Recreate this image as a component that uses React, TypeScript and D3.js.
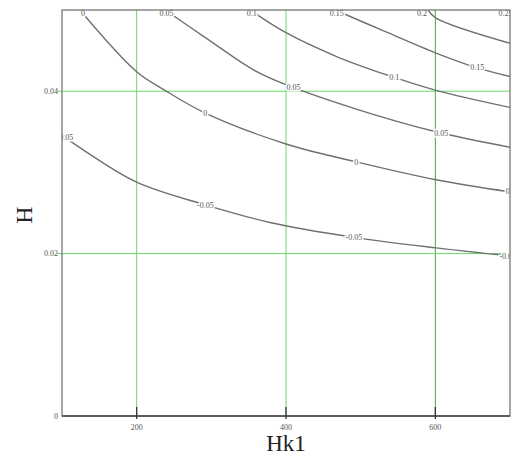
import React, { useRef, useEffect } from 'react';
import * as d3 from 'd3';

type Pt = [number, number];

const xTicks = [200, 400, 600];
const xTickLabels = ['200', '400', '600'];
const yTicks = [0, 0.02, 0.04];
const yTickLabels = ['0', '0.02', '0.04'];
const gridX = [200, 400, 600];
const gridY = [0.02, 0.04];

const levelLabels = ['-0.05', '0', '0.05', '0.1', '0.15', '0.2', '0.25'];

// contour lines (Hk1, H)
const lineM005: Pt[] = [[100, 0.0346], [128, 0.0328], [200, 0.0288], [292, 0.026], [380, 0.0238], [491, 0.022], [601, 0.0207], [700, 0.0197]];
const line0: Pt[] = [[124, 0.05], [200, 0.0424], [238, 0.0401], [292, 0.0373], [400, 0.0335], [494, 0.0313], [601, 0.0291], [700, 0.0276]];
const line005: Pt[] = [[238, 0.05], [292, 0.0466], [357, 0.0426], [400, 0.0408], [494, 0.0378], [601, 0.035], [700, 0.0331]];
const line01: Pt[] = [[352, 0.05], [400, 0.0472], [467, 0.0443], [535, 0.042], [601, 0.0401], [700, 0.038]];
const line015: Pt[] = [[466, 0.05], [534, 0.0473], [601, 0.0447], [652, 0.043], [700, 0.0418]];
const line02: Pt[] = [[590, 0.05], [601, 0.049], [700, 0.0459]];
const line025: Pt[] = [[694, 0.05], [700, 0.0496]];

const contourLines = [lineM005, line0, line005, line01, line015, line02, line025];
// where the inline labels sit, as Hk1 values
const labelXs: number[][] = [[104, 292, 491, 697], [128, 292, 494, 697], [240, 410, 608], [354, 545], [468, 656], [582], [694]];

const width = 514;
const height = 455;
const margin = { top: 10, right: 4, bottom: 39, left: 62 };

const ContourChart: React.FC = () => {
    const ref = useRef<SVGSVGElement>(null);

    useEffect(() => {
        if (!ref.current) return;
        const svg = d3.select(ref.current);
        svg.selectAll('*').remove();

        const x = d3.scaleLinear().domain([100, 700]).range([margin.left, width - margin.right]);
        const y = d3.scaleLinear().domain([0, 0.05]).range([height - margin.bottom, margin.top]);
        const font = "'Liberation Serif', 'DejaVu Serif', serif";

        svg.append('defs').append('clipPath').attr('id', 'plot-clip')
            .append('rect')
            .attr('x', x(100)).attr('y', y(0.05))
            .attr('width', x(700) - x(100)).attr('height', y(0) - y(0.05));

        // grid
        svg.append('g').selectAll('line').data(gridX).enter().append('line')
            .attr('x1', d => x(d)).attr('x2', d => x(d))
            .attr('y1', y(0)).attr('y2', y(0.05))
            .attr('stroke', (d) => d === 600 ? '#4aa44a' : '#6ad86a').attr('stroke-width', 1);
        svg.append('g').selectAll('line').data(gridY).enter().append('line')
            .attr('x1', x(100) - 5).attr('x2', x(700))
            .attr('y1', d => y(d)).attr('y2', d => y(d))
            .attr('stroke', '#6ad86a').attr('stroke-width', 1);

        const plot = svg.append('g').attr('clip-path', 'url(#plot-clip)');
        const line = d3.line<Pt>().x(d => x(d[0])).y(d => y(d[1])).curve(d3.curveCatmullRom.alpha(0.5));

        plot.selectAll('path.contour').data(contourLines).enter().append('path')
            .attr('class', 'contour')
            .attr('d', d => line(d)!)
            .attr('fill', 'none')
            .attr('stroke', '#707070')
            .attr('stroke-width', 1.4);

        contourLines.forEach((pts, i) => {
            const along = d3.scaleLinear().domain(pts.map(p => p[0])).range(pts.map(p => p[1])).clamp(true);
            plot.append('g').selectAll('text').data(labelXs[i]).enter().append('text')
                .attr('x', d => x(d))
                .attr('y', d => Math.max(y(along(d)), y(0.05) + 3))
                .attr('dy', '0.35em')
                .attr('text-anchor', 'middle')
                .attr('font-family', font)
                .attr('font-size', 8)
                .attr('fill', '#555')
                .attr('stroke', '#fff')
                .attr('stroke-width', 3)
                .attr('paint-order', 'stroke')
                .text(levelLabels[i]);
        });

        // frame
        svg.append('rect')
            .attr('x', x(100)).attr('y', y(0.05))
            .attr('width', x(700) - x(100)).attr('height', y(0) - y(0.05))
            .attr('fill', 'none').attr('stroke', '#777').attr('stroke-width', 1.3);
        svg.append('line')
            .attr('x1', x(100)).attr('x2', x(700)).attr('y1', y(0)).attr('y2', y(0))
            .attr('stroke', '#444').attr('stroke-width', 1.5);

        // x ticks
        svg.append('g').selectAll('line').data(xTicks).enter().append('line')
            .attr('x1', d => x(d)).attr('x2', d => x(d))
            .attr('y1', y(0) - 9).attr('y2', y(0) + 3)
            .attr('stroke', '#333').attr('stroke-width', 1.3);
        svg.append('g').selectAll('text').data(xTicks).enter().append('text')
            .attr('x', d => x(d)).attr('y', y(0) + 14)
            .attr('text-anchor', 'middle')
            .attr('font-family', font).attr('font-size', 8).attr('fill', '#555')
            .text((d, i) => xTickLabels[i]);

        // y ticks
        svg.append('g').selectAll('text').data(yTicks).enter().append('text')
            .attr('x', x(100) - 4).attr('y', d => y(d)).attr('dy', '0.35em')
            .attr('text-anchor', 'end')
            .attr('font-family', font).attr('font-size', 8).attr('fill', '#555')
            .text((d, i) => yTickLabels[i]);

        // axis titles
        svg.append('text')
            .attr('x', x(400)).attr('y', 451)
            .attr('text-anchor', 'middle')
            .attr('font-family', font).attr('font-size', 23).attr('fill', '#222')
            .text('Hk1');
        svg.append('text')
            .attr('transform', `translate(32,${y(0.025) + 2}) rotate(-90)`)
            .attr('text-anchor', 'middle')
            .attr('font-family', font).attr('font-size', 24).attr('fill', '#222')
            .text('H');
    }, []);

    return <svg ref={ref} width={width} height={height} style={{ position: 'absolute', left: 0, top: 0, background: '#fff' }}></svg>;
};

export default function App() {
    return <ContourChart />;
}
